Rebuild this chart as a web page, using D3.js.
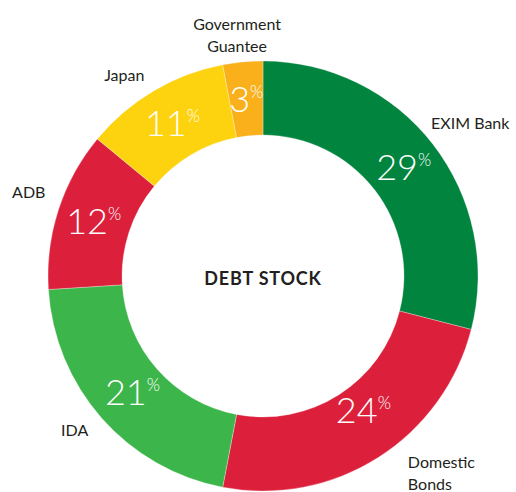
<!DOCTYPE html>
<html>
<head>
<meta charset="utf-8">
<script src="https://cdn.jsdelivr.net/npm/d3@7"></script>
<style>
  body { margin: 0; background: #fff; }
  text { font-family: Lato, "Open Sans", sans-serif; }
</style>
</head>
<body>
<div id="debt-chart"></div>
<script>
let width = 516;
let height = 492;

// data
const categories = ["EXIM Bank", "Domestic Bonds", "IDA", "ADB", "Japan", "Government Guantee"];
const shares = [29, 24, 21, 12, 11, 3];
const labelLines = [["EXIM Bank"], ["Domestic", "Bonds"], ["IDA"], ["ADB"], ["Japan"], ["Government", "Guantee"]];
const sliceColors = ["#00843e", "#dc1f3a", "#3cb54b", "#dc1f3a", "#fdd20e", "#f9b01b"];
const centerTitle = "DEBT STOCK";

let data = categories.map((c, i) => ({ name: c, value: shares[i], lines: labelLines[i] }));

let svg = d3.select("#debt-chart")
    .append("svg")
    .attr("width", width)
    .attr("height", height);

let cx = 263, cy = 276;
let outerR = 215, innerR = 141;

let g = svg.append("g")
    .attr("transform", "translate(" + cx + "," + cy + ")");

let color = d3.scaleOrdinal().domain(categories).range(sliceColors);

let pie = d3.pie()
    .sort(null)
    .value(d => d.value);

let arc = d3.arc()
    .innerRadius(innerR)
    .outerRadius(outerR);

let arcs = pie(data);

g.selectAll("path.slice")
    .data(arcs)
    .join("path")
    .attr("class", "slice")
    .attr("d", arc)
    .attr("fill", d => color(d.data.name))
    .attr("stroke", "#fff")
    .attr("stroke-width", 0.3);

// percentage labels inside the ring
const pctNudge = { "Domestic Bonds": [5, -16], "IDA": [3, -2] };
let pct = g.selectAll("text.pct")
    .data(arcs)
    .join("text")
    .attr("class", "pct")
    .attr("text-anchor", "middle")
    .attr("fill", "#fff")
    .attr("font-weight", 300)
    .attr("transform", d => {
        let c = arc.centroid(d);
        let n = pctNudge[d.data.name] || [0, 0];
        return "translate(" + (c[0] + n[0]) + "," + (c[1] + 13 + n[1]) + ")";
    });
pct.append("tspan")
    .attr("font-size", 36)
    .text(d => d.data.value);
pct.append("tspan")
    .attr("font-size", 17)
    .attr("dy", -14)
    .text("%");

// category labels outside the ring
const labelR = 233;
const nudge = {
    "EXIM Bank": [-16, -10],
    "Domestic Bonds": [20, 0],
    "ADB": [4, -12],
    "Government Guantee": [-4, -9]
};
let outer = g.selectAll("text.cat")
    .data(arcs)
    .join("text")
    .attr("class", "cat")
    .attr("font-size", 16)
    .attr("fill", "#231f20")
    .attr("text-anchor", d => {
        let s = Math.sin((d.startAngle + d.endAngle) / 2);
        return s > 0.3 ? "start" : (s < -0.3 ? "end" : "middle");
    })
    .attr("transform", d => {
        let a = (d.startAngle + d.endAngle) / 2;
        let n = nudge[d.data.name] || [0, 0];
        let x = Math.sin(a) * labelR + n[0];
        let y = -Math.cos(a) * labelR + n[1];
        return "translate(" + x + "," + y + ")";
    });
outer.each(function(d) {
    let lines = d.data.lines;
    let el = d3.select(this);
    lines.forEach((line, i) => {
        el.append("tspan")
            .attr("x", 0)
            .attr("y", (i - (lines.length - 1) / 2) * 22 + 6)
            .text(line);
    });
});

// title in the hole
g.append("text")
    .attr("text-anchor", "middle")
    .attr("y", 9)
    .attr("font-size", 18)
    .attr("font-weight", "bold")
    .attr("letter-spacing", 0.8)
    .attr("fill", "#231f20")
    .text(centerTitle);
</script>
</body>
</html>
